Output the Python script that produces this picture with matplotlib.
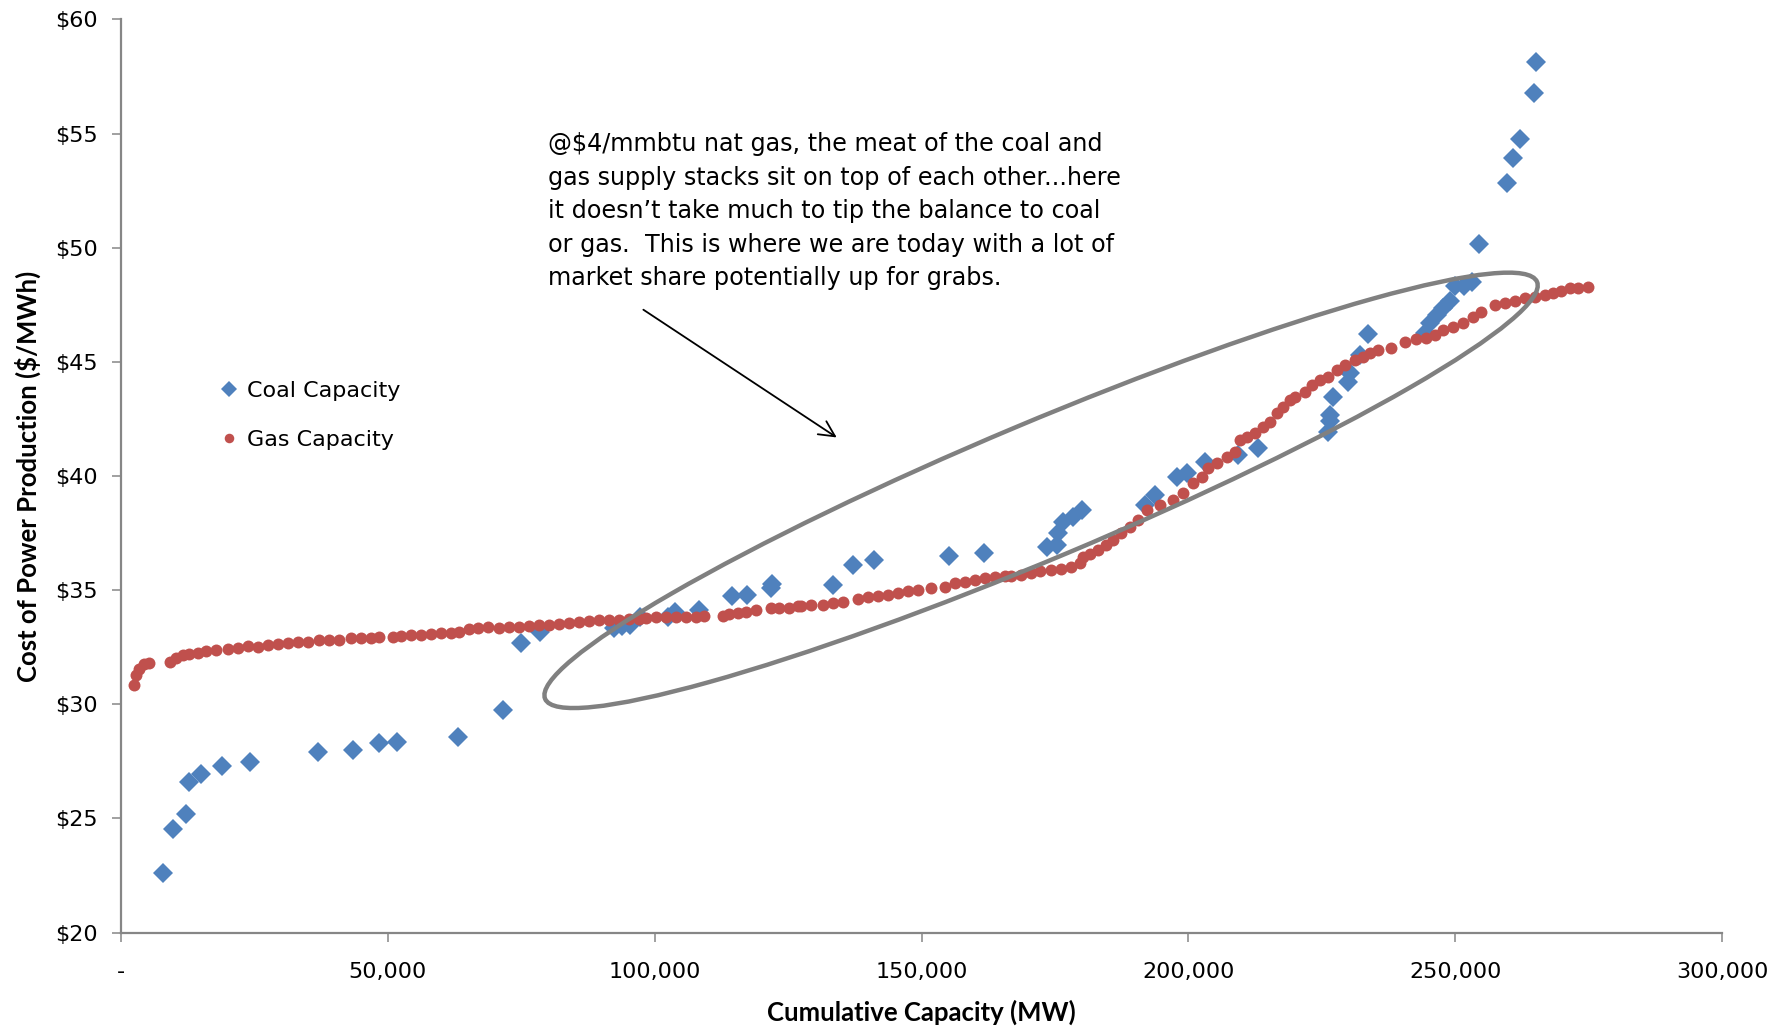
import matplotlib
matplotlib.use("Agg")
import matplotlib.pyplot as plt
from matplotlib.patches import Ellipse
from matplotlib.transforms import ScaledTranslation
from matplotlib.ticker import FuncFormatter

# coal units: cumulative MW vs $/MWh
coal_mw = [7810, 9800, 12120, 12800, 14990, 18980, 24170, 36970, 43530, 48400,
           51660, 63210, 71640, 74890, 78510, 92300, 93800, 95300, 97200, 102560,
           103850, 108330, 114530, 117310, 121800, 122000, 133410, 137100, 141000, 155100,
           161700, 173450, 175330, 175640, 176570, 178450, 180010, 191880, 193750, 197820,
           199690, 203120, 209370, 213120, 226230, 226450, 226540, 227170, 229980, 230290,
           232160, 233720, 244340, 245280, 246530, 247800, 249030, 250000, 251560, 253130,
           254400, 259650, 260900, 262150, 264830, 265150]
coal_cost = [22.62, 24.55, 25.18, 26.61, 26.93, 27.31, 27.45, 27.91, 27.99, 28.29,
             28.36, 28.58, 29.75, 32.67, 33.18, 33.33, 33.43, 33.48, 33.80, 33.80,
             34.03, 34.13, 34.73, 34.78, 35.08, 35.26, 35.24, 36.08, 36.33, 36.48,
             36.63, 36.90, 36.97, 37.49, 37.99, 38.21, 38.51, 38.73, 39.16, 39.97,
             40.11, 40.62, 40.92, 41.21, 41.94, 42.39, 42.67, 43.47, 44.13, 44.49,
             45.30, 46.22, 46.25, 46.69, 47.05, 47.35, 47.67, 48.30, 48.34, 48.49,
             50.16, 52.84, 53.91, 54.76, 56.76, 58.12]

# gas units
gas_mw = [2380, 2810, 3430, 4370, 5300, 9240, 10300, 11560, 12800, 14370,
          15930, 17800, 19990, 21860, 23740, 25610, 27490, 29360, 31240, 33110,
          34990, 37160, 39030, 40900, 43100, 44970, 46850, 48400, 50910, 52470,
          54340, 56210, 58090, 59960, 61840, 63400, 65270, 66830, 68710, 70890,
          72760, 74630, 76510, 78380, 80250, 82130, 84000, 85880, 87750, 89620,
          91500, 93370, 95240, 97120, 98370, 100250, 102120, 104000, 105870, 107750,
          109300, 112750, 114000, 115560, 117110, 118990, 121800, 123350, 125230, 126800,
          127470, 129340, 131540, 133410, 135290, 138100, 139970, 141850, 143720, 145590,
          147470, 149340, 151840, 154340, 156210, 158090, 159960, 161840, 163710, 165590,
          166830, 168700, 170580, 172140, 174320, 176190, 178070, 179640, 180260, 181510,
          183070, 184630, 185880, 187440, 189010, 190570, 192190, 194690, 197180, 199050,
          200930, 202500, 203740, 205310, 207180, 208740, 209680, 210930, 212490, 214050,
          215300, 216550, 217800, 219050, 219990, 221860, 223110, 224670, 226230, 227790,
          229350, 231220, 232780, 234030, 235540, 238030, 240540, 242720, 244590, 246160,
          247710, 249590, 251460, 253340, 254900, 257400, 259280, 261150, 263030, 264900,
          266780, 268330, 269890, 271460, 273020, 274890]
gas_cost = [30.84, 31.28, 31.53, 31.75, 31.82, 31.86, 32.01, 32.14, 32.20, 32.26,
            32.34, 32.37, 32.40, 32.46, 32.55, 32.49, 32.58, 32.64, 32.69, 32.72,
            32.74, 32.81, 32.81, 32.81, 32.89, 32.89, 32.89, 32.96, 32.96, 33.00,
            33.03, 33.04, 33.07, 33.13, 33.13, 33.16, 33.28, 33.32, 33.39, 33.35,
            33.37, 33.39, 33.44, 33.46, 33.48, 33.53, 33.57, 33.60, 33.64, 33.69,
            33.69, 33.70, 33.72, 33.75, 33.78, 33.81, 33.81, 33.83, 33.83, 33.83,
            33.86, 33.86, 33.95, 34.01, 34.05, 34.13, 34.20, 34.20, 34.20, 34.30,
            34.30, 34.35, 34.35, 34.42, 34.49, 34.60, 34.71, 34.74, 34.78, 34.86,
            34.97, 35.00, 35.08, 35.15, 35.30, 35.37, 35.44, 35.52, 35.58, 35.62,
            35.62, 35.64, 35.76, 35.85, 35.88, 35.91, 36.00, 36.17, 36.43, 36.58,
            36.75, 36.97, 37.19, 37.49, 37.78, 38.07, 38.51, 38.73, 38.94, 39.24,
            39.68, 39.97, 40.33, 40.55, 40.84, 41.06, 41.57, 41.72, 41.87, 42.16,
            42.37, 42.74, 43.03, 43.32, 43.47, 43.69, 43.98, 44.20, 44.35, 44.64,
            44.86, 45.08, 45.22, 45.37, 45.52, 45.59, 45.88, 45.98, 46.03, 46.17,
            46.39, 46.53, 46.68, 46.97, 47.19, 47.49, 47.59, 47.67, 47.78, 47.85,
            47.93, 48.00, 48.12, 48.22, 48.22, 48.29]

y_ticks = [20, 25, 30, 35, 40, 45, 50, 55, 60]
x_ticks = [0, 50000, 100000, 150000, 200000, 250000, 300000]

note = ("@$4/mmbtu nat gas, the meat of the coal and\n"
        "gas supply stacks sit on top of each other...here\n"
        "it doesn\u2019t take much to tip the balance to coal\n"
        "or gas.  This is where we are today with a lot of\n"
        "market share potentially up for grabs.")

coal_col = "#4F81BD"
gas_col = "#C0504D"
axis_col = "#868686"

plt.rcParams['font.family'] = ['DejaVu Sans']

fig = plt.figure(figsize=(17.88, 10.26), dpi=100)
ax = fig.add_axes([0.0677, 0.0911, 0.8954, 0.890])

ax.plot(coal_mw, coal_cost, linestyle='none', marker='D', markersize=10.5,
        color=coal_col, markeredgewidth=0, label='Coal Capacity', zorder=3)
ax.plot(gas_mw, gas_cost, linestyle='none', marker='o', markersize=8.6,
        color=gas_col, markeredgewidth=0, label='Gas Capacity', zorder=3)

ax.set_xlim(0, 300000)
ax.set_ylim(20, 60)
ax.set_xticks(x_ticks)
ax.set_yticks(y_ticks)
ax.xaxis.set_major_formatter(FuncFormatter(lambda v, p: '-' if v == 0 else f'{int(v):,}'))
ax.yaxis.set_major_formatter(FuncFormatter(lambda v, p: f'${int(v)}'))

for s in ['top', 'right']:
    ax.spines[s].set_visible(False)
for s in ['left', 'bottom']:
    ax.spines[s].set_color(axis_col)
    ax.spines[s].set_linewidth(1.6)
ax.tick_params(axis='both', direction='out', length=6.5, width=1.1, color=axis_col,
               labelsize=16, labelcolor='black')
ax.tick_params(axis='x', pad=15)
ax.tick_params(axis='y', pad=10)

ax.set_xlabel('Cumulative Capacity (MW)', fontsize=18.5, fontweight='bold', family='Lato')
ax.set_ylabel('Cost of Power Production ($/MWh)', fontsize=18.5, fontweight='bold',
              family='Lato')
ax.xaxis.set_label_coords(0.5, -0.073)
ax.yaxis.set_label_coords(-0.050, 0.5)

# legend
ax.legend(loc='center left', bbox_to_anchor=(0.123, 0.595), bbox_transform=fig.transFigure,
          frameon=False, fontsize=16, handlelength=0.8, handletextpad=0.4,
          labelspacing=1.3, borderpad=0, borderaxespad=0, markerscale=0.8)

# ellipse around the overlap zone
trans = fig.dpi_scale_trans + ScaledTranslation(172400, 39.37, ax.transData)
ell = Ellipse((0, 0), width=10.76, height=1.36, angle=22.8, transform=trans,
              fill=False, edgecolor='#808080', linewidth=3.2, zorder=4)
ax.add_patch(ell)

ax.annotate('', xy=(134540, 41.62), xytext=(97440, 47.35),
            arrowprops=dict(arrowstyle='->', color='black', lw=1.3, mutation_scale=28))

fig.text(0.3065, 0.871, note, fontsize=17.2, va='top', ha='left', linespacing=1.5)

fig.savefig('out.png', dpi=100)
